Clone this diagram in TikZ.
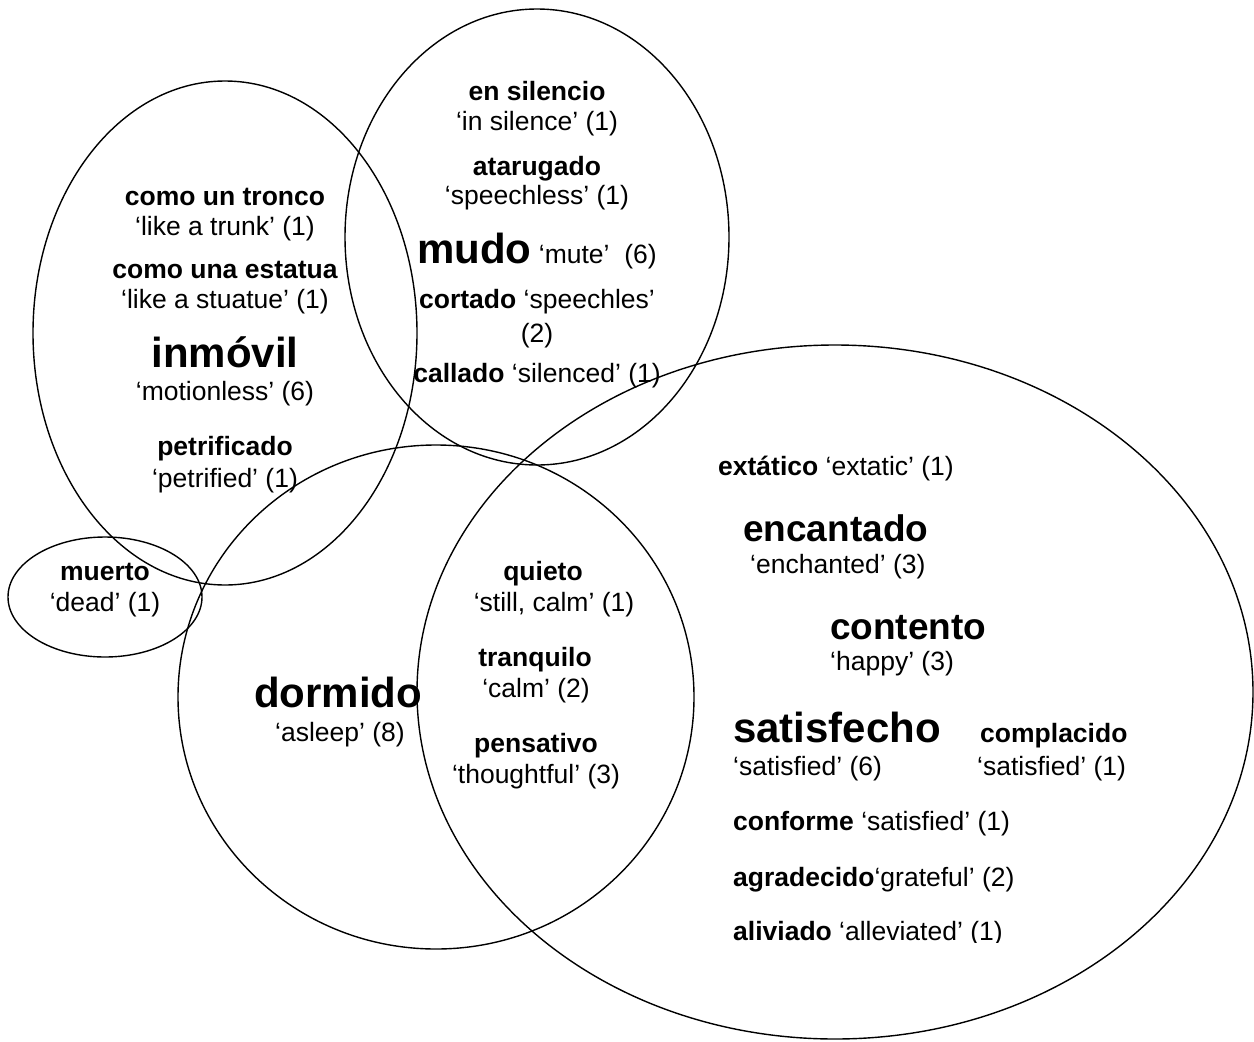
\documentclass[tikz,border=0pt]{standalone}
\usepackage{fontspec}
\setmainfont{Liberation Sans}
\begin{document}
\begin{tikzpicture}[x=1pt,y=-1pt,
  venn/.style={line width=1.4pt},
  sm/.style={inner sep=0pt, anchor=base, font=\fontsize{26.5}{30}\selectfont},
  bsm/.style={sm, font=\fontsize{26.5}{30}\selectfont\bfseries},
  big/.style={sm, font=\fontsize{42}{46}\selectfont\bfseries},
  mid/.style={sm, font=\fontsize{37}{40}\selectfont\bfseries},
  lw/.style={anchor=base west}]
\useasboundingbox (0,0) rectangle (1254,1042);
\fill[white] (0,0) rectangle (1254,1042);
% circles
\draw[venn] (225,333) ellipse [x radius=192, y radius=252];
\draw[venn] (537,237) ellipse [x radius=192, y radius=228];
\draw[venn] (105,597) ellipse [x radius=97, y radius=60];
\draw[venn] (436,697) ellipse [x radius=258, y radius=252];
\draw[venn] (835,692) ellipse [x radius=418, y radius=347];
% left ellipse
\node[bsm] (t1) at (225,205) {como un tronco};
\node[sm] (t1e) at (225,235) {‘like a trunk’ (1)};
\node[bsm] (t2) at (225,278) {como una estatua};
\node[sm] (t2e) at (225,308) {‘like a stuatue’ (1)};
\node[big] (t3) at (225,367) {inmóvil};
\node[sm] (t3e) at (225,400) {‘motionless’ (6)};
\node[bsm] (t4) at (225,455) {petrificado};
\node[sm] (t4e) at (225,487) {‘petrified’ (1)};
% mudo ellipse
\node[bsm] (m1) at (537,100) {en silencio};
\node[sm] (m1e) at (537,130) {‘in silence’ (1)};
\node[bsm] (m2) at (537,175) {atarugado};
\node[sm] (m2e) at (537,204) {‘speechless’ (1)};
\node[sm] (m3) at (537,263) {{\fontsize{42}{46}\selectfont\bfseries mudo} ‘mute’~~(6)};
\node[sm] (m4) at (537,308) {\textbf{cortado} ‘speechles’};
\node[sm] (m4e) at (537,342) {(2)};
\node[sm] (m5) at (537,382) {\textbf{callado} ‘silenced’ (1)};
% muerto
\node[bsm] (d1) at (105,580) {muerto};
\node[sm] (d1e) at (105,611) {‘dead’ (1)};
% dormido
\node[big] (s1) at (338,707) {dormido};
\node[sm] (s1e) at (340,741) {‘asleep’ (8)};
% intersection
\node[bsm] (q1) at (543,580) {quieto};
\node[sm] (q1e) at (554,611) {‘still, calm’ (1)};
\node[bsm] (q2) at (535,666) {tranquilo};
\node[sm] (q2e) at (536,697) {‘calm’ (2)};
\node[bsm] (q3) at (536,752) {pensativo};
\node[sm] (q3e) at (536,783) {‘thoughtful’ (3)};
% big ellipse
\node[sm,lw] (h1) at (718,475) {\textbf{extático} ‘extatic’ (1)};
\node[mid,lw] (h2) at (743,541) {encantado};
\node[sm,lw] (h2e) at (750,573) {‘enchanted’ (3)};
\node[mid,lw] (h3) at (830,639) {contento};
\node[sm,lw] (h3e) at (830,670) {‘happy’ (3)};
\node[big,lw] (h4) at (733,742) {satisfecho};
\node[sm,lw] (h4e) at (733,775) {‘satisfied’ (6)};
\node[bsm,lw] (h5) at (980,742) {complacido};
\node[sm,lw] (h5e) at (977,775) {‘satisfied’ (1)};
\node[sm,lw] (h6) at (733,830) {\textbf{conforme} ‘satisfied’ (1)};
\node[sm,lw] (h7) at (733,886) {\textbf{agradecido}‘grateful’ (2)};
\begin{scope}
\clip (700,900) rectangle (1100,942);
\node[sm,lw] (h8) at (733,940) {\textbf{aliviado} ‘alleviated’ (1)};
\end{scope}
\end{tikzpicture}
\end{document}
